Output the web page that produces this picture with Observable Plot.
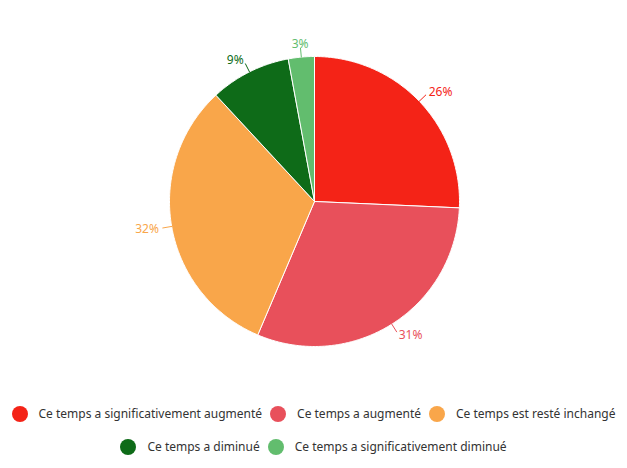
<!DOCTYPE html>
<html>
<head>
<meta charset="utf-8">
<script src="https://cdn.jsdelivr.net/npm/d3@7"></script>
<script src="https://cdn.jsdelivr.net/npm/@observablehq/plot@0.6"></script>
<style>
  body { margin: 0; background: #fff; font-family: "Noto Sans", "Open Sans", sans-serif; }
  #chart { width: 627px; }
  .legend { display: flex; justify-content: center; flex-wrap: wrap; font-size: 12px; color: #333; }
  .legend .item { display: flex; align-items: center; margin: 0 4px; }
  .legend .dot { width: 16px; height: 16px; border-radius: 50%; margin-right: 11px; }
  .row1 { margin-top: 10px; }
  .row2 { margin-top: 16px; }
</style>
</head>
<body>
<div id="chart"></div>
<script>
const categories = [
  "Ce temps a significativement augmenté",
  "Ce temps a augmenté",
  "Ce temps est resté inchangé",
  "Ce temps a diminué",
  "Ce temps a significativement diminué"
];
const values = [25.7, 30.7, 31.7, 9.0, 2.9];
const labels = ["26%", "31%", "32%", "9%", "3%"];
const colors = ["#f42317", "#e8505b", "#f9a64a", "#0e6b18", "#62bd6e"];

const R = 145;
const pie = d3.pie().sort(null).value(d => d)(values);

// slice polygons in a data space where (0,0) is the pie centre
const slicePts = [];
pie.forEach((p, i) => {
  slicePts.push({k: i, x: 0, y: 0});
  const n = Math.max(4, Math.ceil((p.endAngle - p.startAngle) / 0.01));
  for (let j = 0; j <= n; j++) {
    const a = p.startAngle + (p.endAngle - p.startAngle) * j / n;
    slicePts.push({k: i, x: R * Math.sin(a), y: R * Math.cos(a)});
  }
  slicePts.push({k: i, x: 0, y: 0});
});

const leaders = [];
const labelPts = [];
pie.forEach((p, i) => {
  const a = (p.startAngle + p.endAngle) / 2;
  const s = Math.sin(a), c = Math.cos(a);
  leaders.push({k: i, x: R * s, y: R * c});
  leaders.push({k: i, x: (R + 9) * s, y: (R + 9) * c});
  labelPts.push({
    k: i, x: (R + 13) * s, y: (R + 13) * c,
    text: labels[i],
    anchor: s > 0.15 ? "start" : s < -0.15 ? "end" : "middle"
  });
});

const chart = Plot.plot({
  width: 627,
  height: 395,
  margin: 0,
  x: {domain: [-314, 313], range: [0, 627], axis: null},
  y: {domain: [-194, 201], range: [395, 0], axis: null},
  style: {fontFamily: "'Noto Sans', 'Open Sans', sans-serif"},
  marks: [
    Plot.line(slicePts, {x: "x", y: "y", z: "k", fill: d => colors[d.k], stroke: "white", strokeWidth: 1, curve: "linear"}),
    Plot.line(leaders, {x: "x", y: "y", z: "k", stroke: d => colors[d.k], strokeWidth: 1}),
    ...["start", "end", "middle"].map(anc =>
      Plot.text(labelPts.filter(d => d.anchor === anc), {
        x: "x", y: "y", text: "text", fill: d => colors[d.k],
        textAnchor: anc, fontSize: 12
      })
    )
  ]
});
document.getElementById("chart").appendChild(chart);

function legendRow(idx, cls) {
  const row = document.createElement("div");
  row.className = "legend " + cls;
  idx.forEach(i => {
    const it = document.createElement("div");
    it.className = "item";
    const dot = document.createElement("span");
    dot.className = "dot";
    dot.style.background = colors[i];
    const t = document.createElement("span");
    t.textContent = categories[i];
    it.appendChild(dot); it.appendChild(t);
    row.appendChild(it);
  });
  document.getElementById("chart").appendChild(row);
}
legendRow([0, 1, 2], "row1");
legendRow([3, 4], "row2");
</script>
</body>
</html>
